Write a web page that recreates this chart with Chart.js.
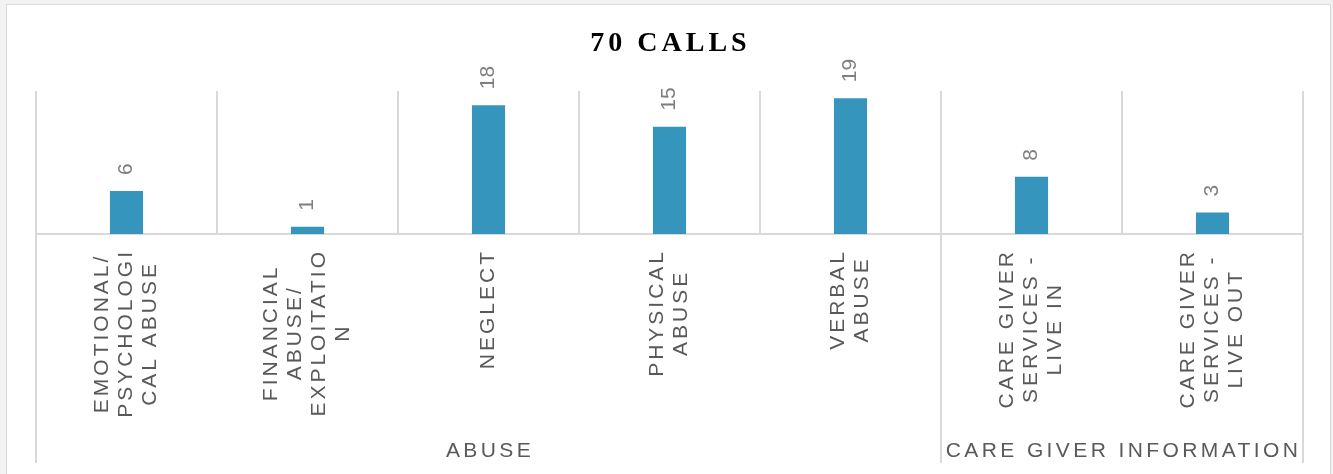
<!DOCTYPE html>
<html>
<head>
<meta charset="utf-8">
<title>70 Calls</title>
<script src="https://cdn.jsdelivr.net/npm/chart.js@4/dist/chart.umd.min.js"></script>
<style>
  html, body { margin: 0; padding: 0; background: #f2f2f2; overflow: hidden; }
  #frame { position: absolute; left: 6px; top: 4px; width: 1323px; height: 490px; background: #fff; border: 1px solid #d9d9d9; }
  #chart { position: absolute; left: 0; top: 0; }
</style>
</head>
<body>
<div id="frame"></div>
<canvas id="chart" width="1333" height="474"></canvas>
<script>
// ---- Data ----
const chartTitle = '70 CALLS';
const categories = [
  ['EMOTIONAL/', 'PSYCHOLOGI', 'CAL ABUSE'],
  ['FINANCIAL', 'ABUSE/', 'EXPLOITATIO', 'N'],
  ['NEGLECT'],
  ['PHYSICAL', 'ABUSE'],
  ['VERBAL', 'ABUSE'],
  ['CARE GIVER', 'SERVICES -', 'LIVE IN'],
  ['CARE GIVER', 'SERVICES -', 'LIVE OUT'],
];
const calls = [6, 1, 18, 15, 19, 8, 3];
const groups = ['ABUSE', 'CARE GIVER INFORMATION'];
const groupSizes = [5, 2];
const yMax = 20;

const GRID = '#d9d9d9';
const BAR = '#3595bd';

// labels, group rows and title, drawn with the scale's own pixel positions
const labelsPlugin = {
  id: 'excelLabels',
  afterDraw(chart) {
    const ctx = chart.ctx;
    const area = chart.chartArea;
    const x = chart.scales.x;
    const meta = chart.getDatasetMeta(0);
    const catW = (area.right - area.left) / categories.length;

    // title
    ctx.save();
    ctx.font = 'bold 28px "Liberation Serif", "Times New Roman", serif';
    ctx.letterSpacing = '4px';
    ctx.fillStyle = '#000';
    ctx.textAlign = 'center';
    ctx.textBaseline = 'alphabetic';
    ctx.fillText(chartTitle, (area.left + area.right) / 2 + 1, 51);
    ctx.restore();

    // value labels above bars
    ctx.save();
    ctx.font = '21px "Liberation Sans", Arial, sans-serif';
    ctx.fillStyle = '#7f7f7f';
    ctx.textAlign = 'left';
    ctx.textBaseline = 'middle';
    meta.data.forEach((bar, i) => {
      ctx.save();
      ctx.translate(bar.x, bar.y - 16);
      ctx.rotate(-Math.PI / 2);
      ctx.fillText(String(calls[i]), 0, 0);
      ctx.restore();
    });
    ctx.restore();

    // category labels (rotated, lines centred on each other)
    ctx.save();
    ctx.font = '21px "Liberation Sans", Arial, sans-serif';
    ctx.letterSpacing = '3px';
    ctx.fillStyle = '#595959';
    ctx.textAlign = 'center';
    ctx.textBaseline = 'middle';
    categories.forEach((lines, i) => {
      const cx = x.getPixelForValue(i);
      const maxW = Math.max(...lines.map(l => ctx.measureText(l).width)) - 3;
      const cy = area.bottom + 18 + maxW / 2;
      lines.forEach((line, j) => {
        ctx.save();
        ctx.translate(cx + (j - (lines.length - 1) / 2) * 24, cy);
        ctx.rotate(-Math.PI / 2);
        ctx.fillText(line, 1.5, 0);
        ctx.restore();
      });
    });

    // group separators and group names
    ctx.strokeStyle = GRID;
    ctx.lineWidth = 2;
    ctx.letterSpacing = '3.4px';
    let start = 0;
    const edges = [];
    groups.forEach((g, k) => {
      const left = x.getPixelForValue(start) - catW / 2;
      const right = x.getPixelForValue(start + groupSizes[k] - 1) + catW / 2;
      edges.push(left, right);
      ctx.textBaseline = 'alphabetic';
      ctx.fillText(g, (left + right) / 2 + 1.5, 457);
      start += groupSizes[k];
    });
    [...new Set(edges.map(e => Math.round(e)))].forEach(e => {
      ctx.beginPath();
      ctx.moveTo(e, area.bottom);
      ctx.lineTo(e, 463);
      ctx.stroke();
    });
    ctx.restore();
  }
};

new Chart(document.getElementById('chart'), {
  type: 'bar',
  data: {
    labels: categories,
    datasets: [{
      label: 'Calls',
      data: calls,
      backgroundColor: BAR,
      categoryPercentage: 1,
      barPercentage: 0.183,
    }]
  },
  options: {
    responsive: false,
    animation: false,
    devicePixelRatio: 1,
    layout: { padding: { left: 36, right: 30, top: 91, bottom: 240 } },
    plugins: { legend: { display: false }, tooltip: { enabled: false }, title: { display: false } },
    scales: {
      x: {
        grid: { offset: true, color: GRID, lineWidth: 2, drawTicks: false },
        border: { display: true, color: GRID, width: 2 },
        ticks: { display: false },
        afterFit(axis) { axis.height = 0; },
      },
      y: { display: false, min: 0, max: yMax },
    }
  },
  plugins: [labelsPlugin]
});
</script>
</body>
</html>
